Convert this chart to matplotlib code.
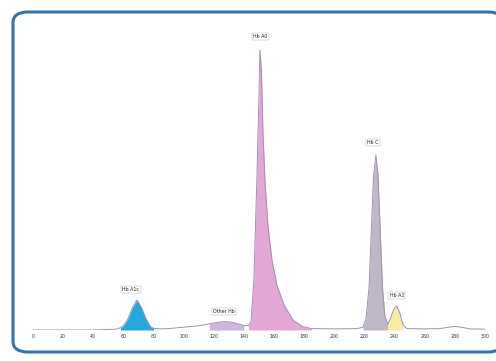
import matplotlib
matplotlib.use("Agg")
import matplotlib.pyplot as plt
from matplotlib.patches import FancyBboxPatch
import numpy as np

# trace (migration units, % of main peak)
trace_x = [0, 40, 55, 58, 60, 63, 66, 69, 72, 75, 78, 80, 84, 90, 100, 110, 117, 122,
           127, 132, 136, 140, 143, 144.7, 146.6, 148.6, 150, 150.6, 151.6, 152.6, 153.9,
           155.9, 158.6, 161.9, 166.6, 172.5, 179, 185, 200, 215, 219, 221, 223, 224.5,
           226, 227.6, 229, 230.5, 232, 233.5, 235.5, 237.5, 239.5, 241.5, 243.5, 245.5,
           248, 260, 270, 276, 280, 284, 290, 300]
trace_y = [0, 0, 0.3, 0.8, 1.5, 4, 8, 10.7, 8, 4, 1.2, 0.6, 0.4, 0.5, 1, 1.5, 2.2, 2.7,
           3, 2.8, 2.2, 1.6, 1.5, 3, 18, 54, 84, 100, 93, 71, 54,
           37.5, 25, 16, 9, 3.6, 1.2, 0.5, 0.4, 0.5, 1, 4, 15, 35,
           55, 62.5, 55, 35, 15, 5, 2, 4.5, 7.5, 8.6, 6, 2,
           0.5, 0.4, 0.5, 1, 1.3, 1, 0.4, 0.3]

# peak zones: name, start, end, fill colour, label position
zone_names = ["Hb A1c", "Other Hb", "Hb A0", "Hb C", "Hb A2"]
zone_start = [57, 117, 143, 219, 235.5]
zone_end = [80, 140, 186, 235.5, 247]
zone_colors = ["#23a8e0", "#cdb6dc", "#e3a7d5", "#bdb7c6", "#f6eda4"]
label_x = [65, 127, 151, 225.5, 241.5]
label_y = [13.5, 5.8, 104, 66, 11.5]

ticks = list(range(0, 301, 20))

fig = plt.figure(figsize=(4.96, 3.61), dpi=100)
fig.patch.set_facecolor("white")

# rounded blue frame
frame = FancyBboxPatch((13 / 496, 9 / 361), 490 / 496, 340 / 361,
                       boxstyle="round,pad=0,rounding_size=0.03",
                       transform=fig.transFigure, facecolor="white",
                       edgecolor="#3474ad", linewidth=2.2, zorder=-5)
fig.patches.append(frame)

ax = fig.add_axes([33 / 496, 31 / 361, 452 / 496, 280 / 361])
ax.set_zorder(2)
ax.set_facecolor("none")
x = np.array(trace_x)
y = np.array(trace_y)

for name, s, e, c in zip(zone_names, zone_start, zone_end, zone_colors):
    m = (x >= s) & (x <= e)
    ax.fill_between(x[m], 0, y[m], color=c, lw=0)

ax.plot(x, y, color="#a38fae", lw=0.7)

for name, lx, ly in zip(zone_names, label_x, label_y):
    ax.text(lx, ly, name, fontsize=3.4, ha="center", va="bottom", color="#222222",
            bbox=dict(boxstyle="square,pad=0.25", fc="white", ec="#aaaaaa", lw=0.3))

ax.set_xlim(0, 300)
ax.set_ylim(0, 100)
ax.set_xticks(ticks)
ax.set_xticklabels([str(t) for t in ticks], fontsize=3.4, color="#333333")
ax.tick_params(axis="x", length=0, pad=3)
ax.set_yticks([])
for sp in ax.spines.values():
    sp.set_visible(False)

fig.savefig("out.png", dpi=100)
